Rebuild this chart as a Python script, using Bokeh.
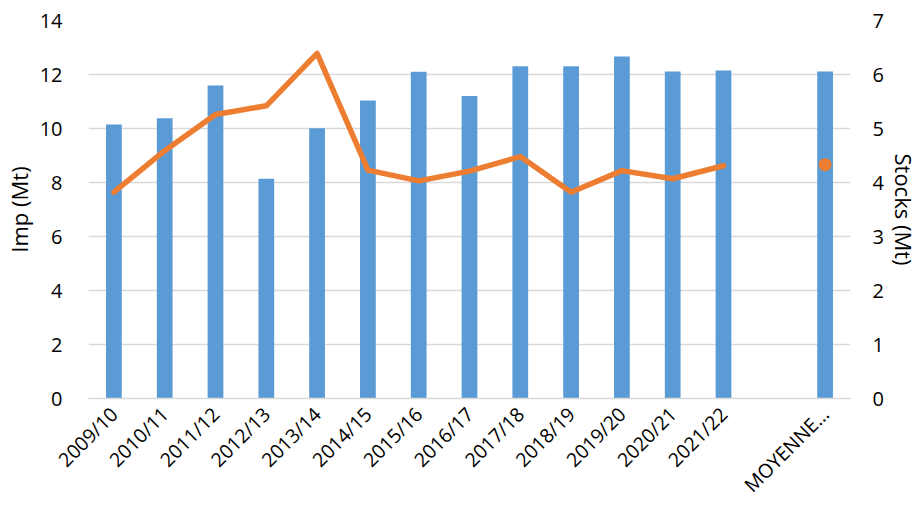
import math
from bokeh.plotting import figure
from bokeh.models import (Range1d, LinearAxis, FactorRange, Legend, LegendItem,
                          FixedTicker, ColumnDataSource)
from bokeh.embed import file_html
from bokeh.resources import INLINE

# ---- data ----
campaigns = ["2009/10", "2010/11", "2011/12", "2012/13", "2013/14", "2014/15",
             "2015/16", "2016/17", "2017/18", "2018/19", "2019/20", "2020/21", "2021/22"]
gap_label = " "
avg_label = "MOYENNE…"
categories = campaigns + [gap_label, avg_label]

imp_values = [10.15, 10.38, 11.59, 8.14, 10.01, 11.04, 12.10, 11.20, 12.31, 12.31, 12.67, 12.11, 12.15]
imp_avg = 12.11
stocks_values = [3.82, 4.59, 5.26, 5.42, 6.39, 4.23, 4.03, 4.21, 4.48, 3.82, 4.22, 4.07, 4.31]
stocks_avg = 4.33

left_ticks = [0, 2, 4, 6, 8, 10, 12, 14]
right_ticks = [0, 1, 2, 3, 4, 5, 6, 7]
source_text = "Source: CIC"

BLUE = "#5B9BD5"
ORANGE = "#ED7D31"
GRID = "#D9D9D9"
AX_FONT = "Open Sans"
LEG_FONT = "Lato"

p = figure(x_range=FactorRange(factors=categories, range_padding=0),
           y_range=Range1d(0, 14),
           frame_width=762, frame_height=378,
           min_border_left=86, min_border_right=68, min_border_top=20, min_border_bottom=0,
           output_backend="svg", toolbar_location=None)
p.extra_y_ranges = {"stocks": Range1d(0, 7)}
p.outline_line_color = None
p.background_fill_color = "white"
p.border_fill_color = "white"

bar_src = ColumnDataSource(dict(x=campaigns + [avg_label], top=imp_values + [imp_avg]))
bars = p.vbar(x="x", top="top", width=0.31, source=bar_src, fill_color=BLUE, line_color=None)

line_src = ColumnDataSource(dict(x=campaigns, y=stocks_values))
line = p.line(x="x", y="y", source=line_src, y_range_name="stocks",
              line_color=ORANGE, line_width=5.5, line_cap="round", line_join="round")
p.scatter(x=[avg_label], y=[stocks_avg], y_range_name="stocks", size=13,
          fill_color=ORANGE, line_color=None)

# invisible renderer only used to carry the source note in the legend row
note = p.scatter(x=[], y=[], size=1, fill_alpha=0, line_alpha=0)

# grids
p.xgrid.grid_line_color = None
p.ygrid.grid_line_color = GRID
p.ygrid.grid_line_width = 1.3
p.ygrid.ticker = FixedTicker(ticks=left_ticks)

# x axis
xa = p.xaxis[0]
xa.major_label_orientation = math.pi / 4
xa.major_tick_line_color = None
xa.minor_tick_line_color = None
xa.axis_line_color = GRID
xa.axis_line_width = 1.3
xa.major_label_text_font = AX_FONT
xa.major_label_text_font_size = "19.5px"
xa.major_label_text_color = "black"
xa.major_label_standoff = 6

# left axis
ya = p.yaxis[0]
ya.ticker = FixedTicker(ticks=left_ticks)
ya.axis_label = "Imp (Mt)"
ya.axis_line_color = None
ya.major_tick_line_color = None
ya.minor_tick_line_color = None
ya.major_label_text_font = AX_FONT
ya.major_label_text_font_size = "20px"
ya.major_label_text_color = "black"
ya.major_label_standoff = 20
ya.axis_label_text_font = AX_FONT
ya.axis_label_text_font_size = "22px"
ya.axis_label_text_font_style = "normal"
ya.axis_label_text_color = "black"
ya.axis_label_standoff = 3

# right axis
ra = LinearAxis(y_range_name="stocks", ticker=FixedTicker(ticks=right_ticks),
                axis_label="Stocks (Mt)")
ra.axis_line_color = None
ra.major_tick_line_color = None
ra.minor_tick_line_color = None
ra.major_label_text_font = AX_FONT
ra.major_label_text_font_size = "20px"
ra.major_label_text_color = "black"
ra.major_label_standoff = 16
ra.axis_label_text_font = AX_FONT
ra.axis_label_text_font_size = "22px"
ra.axis_label_text_font_style = "normal"
ra.axis_label_text_color = "black"
ra.axis_label_standoff = 2
p.add_layout(ra, "right")

# legend row below the x axis (with the source note as last entry)
legend = Legend(items=[LegendItem(label="Imp", renderers=[bars]),
                       LegendItem(label="Stocks", renderers=[line]),
                       LegendItem(label=source_text, renderers=[note])],
                location=(254, 21), orientation="horizontal",
                glyph_width=52, glyph_height=11, label_height=11,
                label_standoff=6, spacing=23, padding=0, margin=0,
                border_line_color=None, background_fill_alpha=0,
                label_text_font=LEG_FONT, label_text_font_size="20px",
                label_text_color="black")
p.add_layout(legend, "below")

open("out.html", "w").write(file_html(p, INLINE))
